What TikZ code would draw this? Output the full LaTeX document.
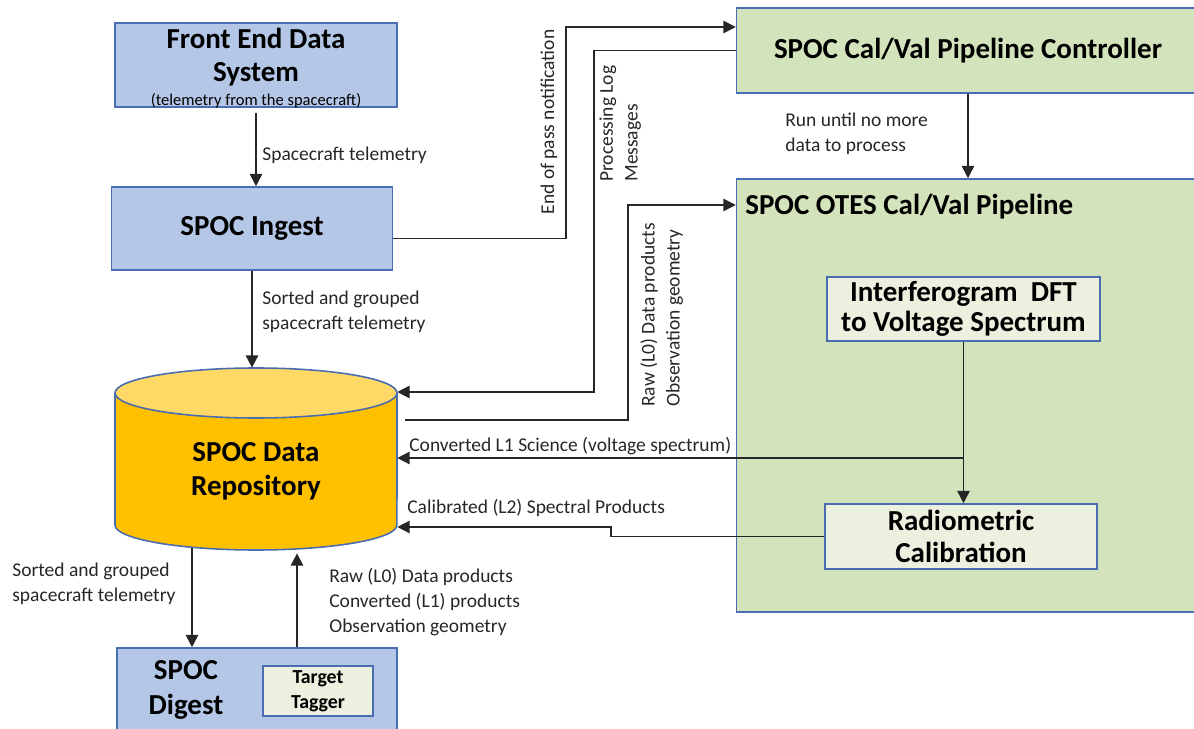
\documentclass[tikz,border=0pt]{standalone}
\usepackage{fontspec}
\setmainfont{Carlito}
\usepackage{tikz}
\usetikzlibrary{arrows.meta,calc,positioning}

\definecolor{bluefill}{HTML}{B4C7E7}
\definecolor{blueline}{HTML}{4A6CB0}
\definecolor{greenfill}{HTML}{D3E3BB}
\definecolor{palegreen}{HTML}{EBF1DE}
\definecolor{repofill}{HTML}{FFC000}
\definecolor{repotop}{HTML}{FFD966}
\definecolor{wire}{HTML}{262626}

\tikzset{
  bluebox/.style={draw=blueline,fill=bluefill,line width=0.9pt,inner sep=0pt},
  greenbox/.style={draw=blueline,fill=greenfill,line width=0.9pt,inner sep=0pt},
  palebox/.style={draw=blueline,fill=palegreen,line width=0.9pt,inner sep=0pt,
    font=\bfseries\fontsize{16.5}{18.7}\selectfont,align=center},
  ttl/.style={font=\bfseries\fontsize{16.5}{19.5}\selectfont,align=center,inner sep=0pt},
  lbl/.style={font=\fontsize{11.1}{14.2}\selectfont,align=left,inner sep=0pt,text=wire},
  arr/.style={-{Triangle[length=7pt,width=7pt]},line width=0.9pt,draw=wire},
  wireline/.style={line width=0.9pt,draw=wire}
}

\begin{document}
\begin{tikzpicture}[x=0.02cm,y=-0.02cm]
\useasboundingbox (0,0) rectangle (1194,729);
%left column
\node[bluebox,minimum width=5.64cm,minimum height=1.68cm] (fe) at (256,65) {};
\node[ttl,font=\bfseries\fontsize{16.5}{18.7}\selectfont] (fetxt) at (256,57) {Front End Data\\System};
\node[inner sep=0pt,font=\fontsize{9.4}{10}\selectfont] (fesub) at (256,101) {(telemetry from the spacecraft)};
\node[bluebox,ttl,minimum width=5.62cm,minimum height=1.66cm] (ingest) at (252,228.5) {SPOC Ingest};
%repository cylinder
\draw[draw=blueline,fill=repofill,line width=0.9pt] (115,393) -- (115,525)
  arc[start angle=180,end angle=360,x radius=2.82cm,y radius=0.5cm] -- (397,393);
\draw[draw=blueline,fill=repotop,line width=0.9pt] (256,393) ellipse[x radius=2.82cm,y radius=0.5cm];
\node[minimum width=5.64cm,minimum height=3.64cm,inner sep=0pt] (repo) at (256,459) {};
\node[ttl] (repotxt) at (256,471) {SPOC Data\\Repository};
%digest
\node[bluebox,minimum width=5.6cm,minimum height=2cm] (digest) at (257,698) {};
\node[ttl] (digtxt) at (186,690) {SPOC\\Digest};
\node[draw=blueline,fill=palegreen,line width=0.9pt,minimum width=2.2cm,minimum height=1cm,
  font=\bfseries\fontsize{11.3}{14}\selectfont,align=center,inner sep=0pt] (tagger) at (318,691) {Target\\Tagger};
%right column
\node[greenbox,ttl,minimum width=9.26cm,minimum height=1.7cm] (ctl) at (968,50.5) {SPOC Cal/Val Pipeline Controller};
\node[greenbox,minimum width=9.26cm,minimum height=8.66cm] (pipe) at (968,395.5) {};
\node[ttl,anchor=west] (pipetxt) at (745,207) {SPOC OTES Cal/Val Pipeline};
\node[palebox,font=\bfseries\fontsize{16.5}{16.8}\selectfont,minimum width=5.46cm,minimum height=1.28cm] (dft) at (963.5,309) {Interferogram~~DFT\\to Voltage Spectrum};
\node[palebox,minimum width=5.44cm,minimum height=1.3cm] (radio) at (961,536.5) {Radiometric\\Calibration};

%vertical flows
\coordinate (down) at ($(repo.south)+(-64,-2)$);
\coordinate (up) at ($(repo.south)+(41,3)$);
\draw[arr] (fe.south) ++(0,5) -- (fe.south |- ingest.north);
\node[lbl,anchor=west] (l1) at (262,155) {Spacecraft telemetry};
\draw[arr] (ingest.south) -- (ingest.south |- repo.north);
\node[lbl,anchor=west] (l2) at (262,312) {Sorted and grouped\\spacecraft telemetry};
\draw[arr] (down) -- (down |- digest.north);
\node[lbl,anchor=west] (l3) at (12,584) {Sorted and grouped\\spacecraft telemetry};
\draw[arr] (up |- digest.north) -- (up);
\node[lbl,anchor=west] (l4) at (329,602) {Raw (L0) Data products\\Converted (L1) products\\Observation geometry};
\draw[arr] (ctl.south) -- (ctl.south |- pipe.north);
\node[lbl,anchor=west] (l5) at (785,134) {Run until no more\\data to process};
\draw[arr] (dft.south) -- (dft.south |- radio.north);

%loops round the middle
\draw[arr] ([yshift=-0.2cm]ingest.east) -| (566,27) -- (ctl.west |- 566,27);
\node[lbl,rotate=90] (l6) at (549,122) {End of pass notification};
\draw[arr] (ctl.west) -| (594,392) -- (repo.east |- 594,392);
\node[lbl,rotate=90,anchor=north west] (l7) at (599,182) {Processing Log\\Messages};
\coordinate (rout) at (405,420);
\draw[arr] (rout) -| (628,205) -- (pipe.west |- 628,205);
\node[lbl,rotate=90,anchor=north west] (l8) at (640,407) {Raw (L0) Data products\\Observation geometry};
\draw[arr] (dft.south |- 0,458) -- (repo.east |- 0,458);
\node[lbl,anchor=west] (l9) at (409,446) {Converted L1 Science (voltage spectrum)};
\draw[arr] (radio.west) -| (611,527) -- (repo.east |- 0,527);
\node[lbl,anchor=west] (l10) at (407,508) {Calibrated (L2) Spectral Products};
\end{tikzpicture}
\end{document}
